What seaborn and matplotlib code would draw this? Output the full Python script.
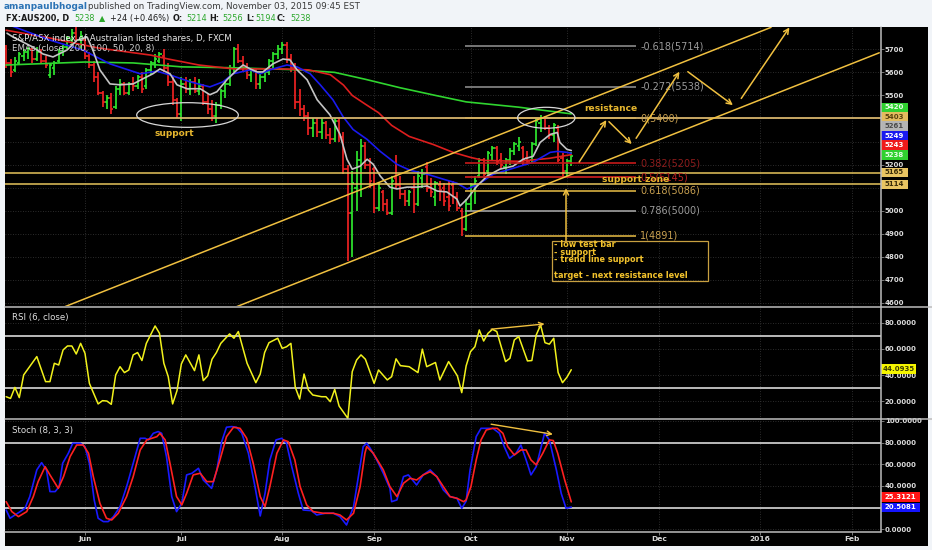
import matplotlib
matplotlib.use('Agg')
import matplotlib.pyplot as plt
import matplotlib.transforms as mtransforms
from matplotlib.patches import Rectangle, Ellipse
from matplotlib.lines import Line2D
import numpy as np
import seaborn as sns

sns.set_theme(style='dark')
plt.rcParams['font.family'] = ['DejaVu Sans']

# ---------------- data ----------------
bar_index = list(range(-18, 112))
opens = [5700,5640,5610,5640,5670,5690,5700,5660,5690,5650,5590,5620,5650,5690,5710,5740,5770,5740,
         5740,5670,5630,5580,5510,5470,5490,5450,5530,5550,5510,5550,5540,5580,5540,5610,5640,5650,5670,5620,5560,5480,
         5420,5550,5530,5560,5520,5540,5470,5440,5410,5460,5520,5550,5620,5700,5650,5620,5590,5610,5550,5580,5600,5650,5680,
         5700,5720,5660,5620,5470,5440,5410,5360,5380,5340,5380,5330,5310,5390,5320,5180,4990,5100,5220,5280,5200,
         5180,5010,5080,5030,4990,5140,5110,5070,5040,5100,5030,5140,5190,5100,5060,5110,5100,5060,5110,5060,5000,4920,
         5030,5110,5150,5220,5170,5240,5270,5220,5190,5220,5260,5280,5270,5230,5220,5290,5380,5400,5360,5330,5360,5230,5170,5214]
highs = [5720,5660,5665,5690,5700,5710,5705,5710,5700,5670,5640,5650,5700,5720,5760,5790,5800,5780,
         5750,5690,5650,5600,5520,5500,5510,5540,5570,5560,5560,5580,5590,5600,5620,5650,5680,5690,5700,5640,5580,5490,
         5580,5580,5570,5580,5570,5550,5510,5480,5470,5530,5560,5630,5710,5725,5670,5640,5620,5620,5600,5620,5660,5690,5720,
         5730,5730,5680,5640,5530,5460,5430,5400,5400,5400,5390,5360,5400,5400,5340,5200,5170,5260,5310,5300,5230,
         5190,5120,5090,5050,5150,5240,5150,5090,5090,5150,5170,5180,5210,5140,5130,5130,5120,5130,5130,5080,5010,5050,
         5120,5150,5230,5230,5260,5280,5280,5250,5230,5270,5300,5320,5280,5260,5300,5400,5413,5410,5370,5380,5370,5250,5225,5256]
lows = [5620,5580,5600,5630,5650,5660,5640,5650,5640,5620,5575,5590,5640,5670,5700,5720,5730,5700,
        5660,5620,5560,5500,5450,5440,5420,5440,5500,5500,5500,5520,5530,5510,5530,5590,5620,5640,5600,5540,5460,5400,
        5390,5510,5500,5510,5500,5460,5420,5390,5380,5440,5490,5540,5600,5640,5600,5570,5560,5530,5530,5560,5590,5620,5660,
        5680,5640,5600,5440,5410,5390,5330,5320,5320,5310,5310,5290,5300,5300,5160,4780,4800,5000,5060,5180,5100,
        4990,5000,5000,4980,4980,5100,5050,5020,5020,4990,5020,5100,5080,5060,5020,5040,5020,5000,5030,5000,4891,4910,
        5000,5030,5140,5150,5150,5220,5200,5180,5160,5200,5240,5260,5200,5200,5210,5280,5340,5350,5310,5300,5210,5145,5150,5194]
closes = [5640,5600,5650,5680,5690,5700,5660,5690,5650,5630,5630,5640,5690,5710,5750,5770,5740,5760,
          5670,5630,5580,5510,5470,5490,5440,5530,5550,5510,5550,5540,5580,5530,5610,5640,5660,5680,5620,5560,5480,5420,
          5550,5530,5560,5520,5540,5470,5440,5410,5460,5520,5550,5620,5700,5650,5620,5590,5610,5550,5580,5600,5650,5680,5700,
          5720,5660,5620,5470,5440,5410,5360,5380,5340,5380,5330,5310,5390,5320,5180,4990,5120,5220,5280,5200,5130,
          5010,5100,5030,4990,5130,5110,5070,5040,5080,5030,5150,5160,5100,5080,5120,5090,5040,5020,5060,5010,4920,5030,
          5110,5130,5220,5160,5250,5270,5210,5200,5220,5260,5290,5300,5220,5210,5290,5390,5400,5360,5330,5370,5220,5170,5214,5238]

ema_green_idx = [-18,0,11,22,34,49,57,64,72,80,87,99,111]
ema_green_val = [5632,5645,5641,5624,5620,5611,5600,5570,5533,5500,5472,5449,5420]
ema_red_idx = [-18,-8,3,15,19,26,34,45,51,56,59,61,64,67,70,74,79.5,84,88,91,99,106,111]
ema_red_val = [5783,5749,5706,5675,5658,5632,5615,5615,5611,5590,5545,5500,5462,5425,5370,5322,5287,5253,5231,5218,5214,5227,5243]
ema_blue_idx = [-16.5,-8,-0.5,5.7,12.6,16.4,19.4,24,28.5,31.5,33.8,37.7,40,42.2,46.1,48.4,51.4,53.7,56.6,58.9,61.2,
                64.4,67.4,71.2,74.2,78.1,81.7,84.9,87.2,89.5,93.2,97.1,102.3,106.2,107.8,110,111]
ema_blue_val = [5800,5740,5697,5637,5594,5605,5589,5559,5537,5559,5594,5611,5594,5611,5632,5624,5594,5546,5481,5408,5352,
                5309,5257,5201,5175,5158,5137,5119,5094,5111,5158,5180,5210,5253,5257,5253,5249]
ema_gray_idx = [-17.8,-16.4,-11.9,-9.6,-7.3,-4.1,-1.8,0.5,1.8,3.4,5.7,8.0,11.0,13.2,15.5,17.1,19.4,21.0,23.3,26.3,28.5,
                30.1,32.4,34.7,36.1,37.7,39.3,40.6,42.9,45.2,46.8,48.4,50.7,53.0,55.9,58.2,59.8,61.0,62.8,64.4,65.8,67.4,
                69.6,71.2,73.5,75.8,78.1,80.4,82.6,84.9,85.6,87.2,89.5,91.8,94.7,97.7,100.0,102.3,103.9,106.2,107.8,108.4,110.0,111]
ema_gray_val = [5770,5753,5710,5680,5667,5697,5740,5753,5697,5611,5550,5546,5550,5572,5594,5615,5594,5546,5529,5529,5503,
                5516,5568,5611,5632,5615,5602,5602,5637,5658,5654,5611,5568,5481,5416,5331,5223,5180,5193,5223,5201,5150,
                5102,5094,5102,5102,5107,5085,5081,5050,5020,5050,5107,5150,5180,5193,5223,5236,5296,5331,5339,5296,5266,5261]

rsi_idx = [-18,-17,-16,-15,-14,-11,-9,-8,-7,-6,-5,-4,-3,-2,-1,0,1,3,4,5,6,7,8,9,10,11,12,13,14,16,17,18,19,20,21,22,23,25,26,27,
           28,29,30,31,33,34,35,37,39,40,41,42,44,45,46,47,48,49,50,51,52,54,55,56,57,58,60,61,62,63,64,66,67,69,70,71,72,74,76,77,
           78,80,81,83,85,86,87,88,89,90,91,92,93,94,96,97,98,99,101,102,103,104,105,106,107,108,109,110,111]
rsi_val = [23.5,22.2,30.6,22.8,40.1,54.1,35.0,35.0,49.0,47.7,59.2,62.2,62.2,56.1,64.2,56.6,33.7,18.0,20.5,20.2,17.7,40.1,46.4,41.9,
           43.9,55.4,57.2,51.1,64.2,77.5,71.9,49.0,38.8,18.0,28.1,48.5,55.4,43.4,55.4,35.8,39.4,52.1,57.2,64.2,71.4,68.1,73.2,49.0,
           34.2,40.8,57.2,64.7,68.1,60.4,61.6,64.2,30.7,21.7,40.8,28.6,24.8,23.5,23.5,19.7,29.1,16.4,7.0,42.6,51.5,55.4,52.1,33.7,
           43.9,36.3,38.8,52.4,47.2,46.4,41.9,59.8,46.4,49.6,36.3,50.3,39.4,26.6,47.0,57.9,61.6,74.4,66.0,71.9,74.9,73.2,50.3,52.8,
           66.8,69.4,50.8,51.1,70.6,78.2,64.7,63.6,68.1,41.9,34.2,38.3,44.09]

stk_idx = [-18.0,-17.1,-16.0,-14.8,-13.7,-12.6,-11.0,-9.9,-8.8,-8.0,-6.8,-5.9,-5.1,-3.8,-2.8,-1.1,0.0,1.0,2.1,3.0,4.2,5.3,6.5,8.0,
           9.5,11.0,12.6,13.7,14.5,15.6,16.7,17.5,18.6,19.8,20.9,22.1,23.2,24.4,25.9,27.0,28.9,30.1,31.2,32.3,33.5,34.6,35.8,37.3,
           38.8,40.0,41.1,42.2,43.6,44.9,46.0,47.2,48.7,49.8,51.7,52.9,54.8,56.7,58.2,59.7,61.3,62.4,63.5,64.3,65.1,66.6,68.1,69.6,
           70.0,71.2,72.7,73.8,75.7,77.2,78.8,80.3,81.8,83.3,84.9,86.0,87.0,87.9,89.3,90.4,91.6,93.1,94.6,95.7,96.9,98.4,99.5,100.7,
           101.8,103.0,104.9,106.0,107.6,108.7,109.8,111.0]
stk_val = [17.8,10.2,13.2,16.3,19.4,30.2,54.8,61.5,54.8,34.8,34.8,39.4,60.9,70.2,79.4,79.4,76.3,60.9,27.1,10.2,7.1,7.1,11.7,20.9,
           39.4,60.9,84.0,84.0,82.5,88.6,90.2,88.6,67.1,30.2,16.3,24.0,50.2,51.7,56.3,45.5,37.8,54.8,80.9,94.2,94.8,94.2,88.6,70.2,
           39.4,12.3,33.2,64.0,82.5,84.0,79.4,57.8,33.2,17.8,17.2,13.2,14.8,14.8,11.7,4.0,20.9,48.6,76.3,79.4,74.8,64.0,51.7,37.8,
           25.5,27.1,48.6,50.2,40.9,50.2,54.8,48.6,36.3,30.2,28.6,19.4,26.0,54.8,85.5,93.2,93.2,93.2,88.6,76.3,65.5,70.2,77.8,64.0,
           50.2,57.8,88.6,82.5,54.8,33.2,19.4,20.51]
std_idx = [-18.0,-16.7,-15.2,-13.3,-11.8,-10.7,-9.1,-8.0,-6.1,-4.9,-3.4,-1.9,-0.4,0.8,1.9,3.4,4.9,6.1,7.6,9.5,11.0,12.6,14.1,16.4,
           17.1,18.3,19.4,20.9,22.1,23.2,24.7,26.3,27.8,29.3,30.8,32.3,33.9,35.4,36.9,38.4,40.0,41.1,42.2,43.8,45.3,46.4,47.9,49.1,
           50.6,52.1,54.4,56.7,58.2,59.7,61.3,62.8,63.9,64.3,65.8,68.1,69.6,71.2,72.7,74.2,75.7,77.2,78.8,80.3,81.8,83.3,84.9,86.4,
           87.0,88.1,89.3,90.4,91.6,93.1,94.1,95.4,96.5,98.0,99.5,100.7,101.8,103.0,104.5,106.0,106.9,107.9,109.5,111.0]
std_val = [25.5,16.3,11.7,16.3,30.2,44.0,57.8,50.2,37.8,48.6,67.1,77.8,77.8,70.2,48.6,24.0,10.2,8.6,14.8,30.2,48.6,73.2,82.5,85.5,
           88.6,82.5,60.9,30.2,22.5,33.2,50.2,51.7,44.0,44.0,64.0,85.5,94.2,93.2,84.0,60.9,30.2,20.9,39.4,70.2,82.5,80.9,64.0,39.4,
           22.5,16.3,14.8,14.8,13.2,8.6,14.8,39.4,70.2,76.3,70.2,54.8,39.4,30.2,42.5,47.1,45.5,50.2,53.2,48.6,39.4,30.2,28.6,25.5,
           27.1,39.4,64.0,82.5,91.7,93.2,93.2,88.6,76.3,68.6,73.2,73.2,64.0,59.4,70.2,82.5,81.9,70.2,45.5,25.31]

month_ticks = [0, 22, 45, 66, 88, 110, 131, 154, 175]
month_labels = ['Jun', 'Jul', 'Aug', 'Sep', 'Oct', 'Nov', 'Dec', '2016', 'Feb']
price_ticks = [4600, 4700, 4800, 4900, 5000, 5100, 5200, 5300, 5400, 5500, 5600, 5700]
price_tick_hidden = [5100, 5300, 5400]   # covered by the value tags in the reference
rsi_ticks = [20, 40, 60, 80]
stoch_ticks = [0, 20, 40, 60, 80, 100]
stoch_tick_hidden = [20]

fib_labels = ['-0.618(5714)', '-0.272(5538)', '0(5400)', '0.382(5205)', '0.5(5145)', '0.618(5086)', '0.786(5000)', '1(4891)']
fib_prices = [5714, 5538, 5400, 5205, 5145, 5086, 5000, 4891]
fib_line_colors = ['#8a8a8a', '#8a8a8a', '#d4b060', '#c41a1a', '#d42020', '#d8b040', '#a0a0a0', '#d8b040']
fib_text_colors = ['#9a9a9a', '#9a9a9a', '#c8a050', '#8e1c1c', '#b82222', '#c8a050', '#9a9a9a', '#c8a050']
level_lines = [5403, 5165, 5114]

# trend channel (bar index, price)
upper_channel = ([-4.6, 156.6], [4583, 5795.5])
lower_channel = ([34.6, 181.3], [4583, 5685])
path_arrows = [((112.8, 5211), (119.0, 5393)), ((119.6, 5386), (124.8, 5289)), ((125.8, 5314), (135.7, 5603)),
               ((137.6, 5603), (147.9, 5458)), ((149.8, 5487), (160.8, 5795)), ((109.8, 4869), (109.8, 5097))]

# price-axis value tags: (text, display position, face, text colour)
price_tags = [('5420', 5448, '#2fd12f', '#e6ffe6'), ('5403', 5407, '#e3bb5e', '#5a4410'), ('5261', 5367, '#b4b4b4', '#4a4a4a'),
              ('5249', 5325, '#1a1aef', '#ffffff'), ('5243', 5284, '#ef1a1a', '#ffffff'), ('5238', 5242, '#2fd12f', '#e6ffe6'),
              ('5165', 5166, '#e8c462', '#3a2c08'), ('5114', 5114, '#e8c462', '#3a2c08')]

# ---------------- figure ----------------
W, H = 932, 550
fig = plt.figure(figsize=(W / 100, H / 100), dpi=100)
fig.patch.set_facecolor('#f1f4f8')


def fx(px):
    return px / W


def fy(py):
    return 1 - py / H


fig.add_artist(Rectangle((fx(5), fy(546)), (928 - 5) / W, (546 - 27) / H, transform=fig.transFigure,
                         facecolor='black', edgecolor='none', zorder=-5))

XMIN, XMAX = -18.26, 181.7
GRID = dict(color='#3a3a3a', linestyle=(0, (1, 2)), linewidth=0.6)


def add_ax(x0, y0, x1, y1):
    a = fig.add_axes([fx(x0), fy(y1), (x1 - x0) / W, (y1 - y0) / H])
    a.set_facecolor('black')
    for s in a.spines.values():
        s.set_visible(False)
    return a


def right_ticks(a, ticks, labels):
    a.yaxis.tick_right()
    a.set_yticks(ticks)
    a.set_yticklabels(labels, fontweight='bold')
    a.tick_params(axis='y', right=True, left=False, labelright=True, labelleft=False, length=2, width=0.6,
                  color='#8c8c8c', pad=0.8, labelsize=5, labelcolor='#dcdcdc')


def value_box(a, y, text, fc, tc, h, w_px):
    tr = mtransforms.blended_transform_factory(a.transAxes, a.transData)
    wf = w_px / 876
    a.add_patch(Rectangle((1.0, y - h / 2), wf, h, transform=tr, facecolor=fc, edgecolor='none', clip_on=False, zorder=8))
    a.text(1.0 + wf / 2, y, text, transform=tr, ha='center', va='center', color=tc, fontsize=5, fontweight='bold',
           clip_on=False, zorder=9)


YELLOW = '#f0c040'

# ---- main price panel ----
ax = add_ax(5, 27, 881, 306)
cols = ['#2ee62e' if c >= o else '#ee2222' for o, c in zip(opens, closes)]
bi = np.array(bar_index, dtype=float)
ax.vlines(bi, lows, highs, colors=cols, lw=1.25, zorder=2)
ax.hlines(opens, bi - 0.5, bi, colors=cols, lw=1.2, zorder=2)
ax.hlines(closes, bi, bi + 0.5, colors=cols, lw=1.2, zorder=2)

for xs, ys, c in [(ema_green_idx, ema_green_val, '#2fd52f'), (ema_red_idx, ema_red_val, '#dd1e1e'),
                  (ema_blue_idx, ema_blue_val, '#1a1af0'), (ema_gray_idx, ema_gray_val, '#c4c4c4')]:
    sns.lineplot(x=xs, y=ys, ax=ax, color=c, linewidth=1.2, estimator=None, sort=False, zorder=3)

ax.axhline(level_lines[0], color='#d6b46c', lw=1.3, zorder=4)
ax.axhline(level_lines[1], color='#e6c45c', lw=1.1, zorder=4)
ax.axhline(level_lines[2], color='#e6c45c', lw=1.1, zorder=4)

ax.hlines(fib_prices, 86.8, 125.8, colors=fib_line_colors, lw=1.2, zorder=4)
for lab, p, c in zip(fib_labels, fib_prices, fib_text_colors):
    ax.text(126.7, p, lab, color=c, fontsize=7, va='center', ha='left', zorder=5)

ax.plot(*upper_channel, color=YELLOW, lw=1.1, zorder=4)
ax.plot(*lower_channel, color=YELLOW, lw=1.1, zorder=4)
for (s, e) in path_arrows:
    ax.annotate('', xy=e, xytext=s, annotation_clip=False,
                arrowprops=dict(arrowstyle='->', color=YELLOW, lw=1.1, shrinkA=0, shrinkB=0, mutation_scale=9), zorder=5)

ax.add_patch(Ellipse((23.4, 5415), 23.2, 107, fill=False, ec='#d8d8d8', lw=0.9, zorder=5))
ax.add_patch(Ellipse((105.3, 5403), 13.1, 91, fill=False, ec='#d8d8d8', lw=0.9, zorder=5))
ax.text(20.5, 5335, 'support', color='#e6b62e', fontsize=6.5, fontweight='bold', ha='center', va='center', zorder=6)
ax.text(114.0, 5444, 'resistance', color='#e6b62e', fontsize=6.6, fontweight='bold', ha='left', va='center', zorder=6)
ax.text(118.0, 5137, 'support zone', color='#e6b62e', fontsize=6.6, fontweight='bold', ha='left', va='center', zorder=6)

ax.add_patch(Rectangle((106.5, 4694.3), 35.6, 175, fill=False, ec='#c8a040', lw=0.9, zorder=5))
for txt, p in [('- low test bar', 4851), ('- support', 4818), ('- trend line support', 4786),
               ('target - next resistance level', 4717)]:
    ax.text(107.1, p, txt, color='#f2c22c', fontsize=5.9, fontweight='bold', ha='left', va='center', zorder=6)

ax.set_xlim(XMIN, XMAX)
ax.set_ylim(4586, 5797)
ax.set_xticks(month_ticks)
ax.tick_params(axis='x', bottom=False, labelbottom=False)
right_ticks(ax, price_ticks, ['' if p in price_tick_hidden else str(p) for p in price_ticks])
ax.grid(True, **GRID)
ax.set_axisbelow(True)
for t, yv, fc, tc in price_tags:
    value_box(ax, yv, t, fc, tc, 41, 27)

# ---- RSI panel ----
rsi = add_ax(5, 306, 881, 419)
sns.lineplot(x=rsi_idx, y=rsi_val, ax=rsi, color='#f2f21c', linewidth=1.1, estimator=None, sort=False, zorder=3)
rsi.axhline(70, color='#c8c8c8', lw=1.3, zorder=2)
rsi.axhline(30, color='#c8c8c8', lw=1.3, zorder=2)
rsi.annotate('', xy=(104.9, 79.0), xytext=(92.7, 75.0),
             arrowprops=dict(arrowstyle='->', color=YELLOW, lw=1.0, shrinkA=0, shrinkB=0, mutation_scale=8), zorder=5)
rsi.set_xlim(XMIN, XMAX)
rsi.set_ylim(6.5, 92.7)
rsi.set_xticks(month_ticks)
rsi.tick_params(axis='x', bottom=False, labelbottom=False)
right_ticks(rsi, rsi_ticks, ['%.4f' % v for v in rsi_ticks])
rsi.grid(True, **GRID)
rsi.set_axisbelow(True)
value_box(rsi, 44.6, '44.0935', '#f5f500', '#3c3c00', 7.6, 35)

# ---- Stoch panel ----
sto = add_ax(5, 419, 881, 532)
sns.lineplot(x=stk_idx, y=stk_val, ax=sto, color='#1a1aff', linewidth=1.2, estimator=None, sort=False, zorder=3)
sns.lineplot(x=std_idx, y=std_val, ax=sto, color='#ff2020', linewidth=1.2, estimator=None, sort=False, zorder=3)
sto.axhline(80, color='#c8c8c8', lw=1.3, zorder=2)
sto.axhline(20, color='#c8c8c8', lw=1.3, zorder=2)
sto.annotate('', xy=(106.8, 87.7), xytext=(92.7, 97.0),
             arrowprops=dict(arrowstyle='->', color=YELLOW, lw=1.0, shrinkA=0, shrinkB=0, mutation_scale=8), zorder=5)
sto.set_xlim(XMIN, XMAX)
sto.set_ylim(-2.5, 101.8)
sto.set_xticks(month_ticks)
sto.set_xticklabels(month_labels, fontweight='bold')
sto.tick_params(axis='x', bottom=True, length=2, width=0.6, color='#8c8c8c', labelsize=5.4, labelcolor='#d8d8d8', pad=1)
right_ticks(sto, stoch_ticks, ['' if v in stoch_tick_hidden else '%.4f' % v for v in stoch_ticks])
sto.grid(True, **GRID)
sto.set_axisbelow(True)
value_box(sto, 29.8, '25.3121', '#ff1414', '#ffffff', 8.6, 39)
value_box(sto, 20.3, '20.5081', '#1414ff', '#ffffff', 8.6, 39)

# ---- separators ----
for (x0, y0, x1, y1) in [(5, 306.5, 932, 306.5), (5, 419, 932, 419), (5, 532, 881, 532), (881, 27, 881, 532)]:
    fig.add_artist(Line2D([fx(x0), fx(x1)], [fy(y0), fy(y1)], color='#bdbdbd', lw=1.1, transform=fig.transFigure, zorder=10))

# ---- texts ----
fig.text(fx(12), fy(38), 'S&P/ASX index of Australian listed shares, D, FXCM', color='#e8e8e8', fontsize=6.2,
         va='center', ha='left', zorder=11)
fig.text(fx(12), fy(49), 'EMAs (close, 200, 100, 50, 20, 8)', color='#cfcfcf', fontsize=6.2, va='center', ha='left', zorder=11)
fig.text(fx(12), fy(317.5), 'RSI (6, close)', color='#e0e0e0', fontsize=6.2, va='center', ha='left', zorder=11)
fig.text(fx(12), fy(430), 'Stoch (8, 3, 3)', color='#e0e0e0', fontsize=6.2, va='center', ha='left', zorder=11)

fig.text(fx(4), fy(6.8), 'amanpaulbhogal', color='#2b73b5', fontsize=6.4, fontweight='bold', va='center', ha='left')
fig.text(fx(88), fy(6.8), 'published on TradingView.com, November 03, 2015 09:45 EST', color='#3a3a3a', fontsize=6.3,
         va='center', ha='left')
GREEN_T = '#2ca82c'
header2 = [('FX:AUS200, D', 6, '#1a1a1a', 'bold'), ('5238', 74, GREEN_T, 'normal'), ('\u25b2', 99, GREEN_T, 'normal'),
           ('+24 (+0.46%)', 110, '#1a1a1a', 'normal'), ('O:', 173, '#1a1a1a', 'bold'), ('5214', 186, GREEN_T, 'normal'),
           ('H:', 209, '#1a1a1a', 'bold'), ('5256', 222, GREEN_T, 'normal'), ('L:', 246, '#1a1a1a', 'bold'),
           ('5194', 255, GREEN_T, 'normal'), ('C:', 277, '#1a1a1a', 'bold'), ('5238', 290, GREEN_T, 'normal')]
for txt, px, c, w in header2:
    fig.text(fx(px), fy(18.3), txt, color=c, fontsize=5.9, fontweight=w, va='center', ha='left')

fig.savefig('out.png', dpi=100, facecolor=fig.get_facecolor())
